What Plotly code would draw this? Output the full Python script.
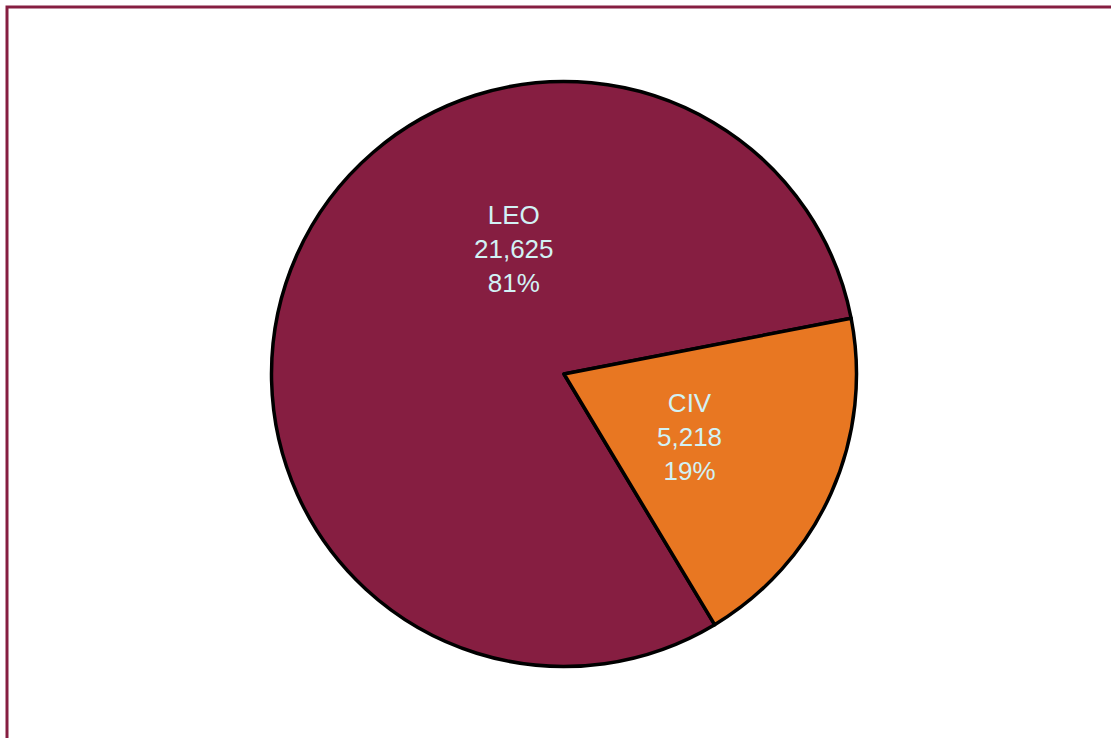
import math
import plotly.graph_objects as go

# Category totals
labels = ["LEO", "CIV"]
values = [21625, 5218]
colors = ["#861e41", "#e87722"]

W, H = 1111, 738

# Pie placement (pixels): centre and radius
CX, CY, R = 564, 374, 292.5
# Label anchor for each slice: polar angle (deg, counter-clockwise from 3 o'clock)
# and distance as a fraction of the radius
label_pos = {"LEO": (111.8, 0.46), "CIV": (-26.6, 0.48)}

domain_x = [(CX - R) / W, (CX + R) / W]
domain_y = [(H - CY - R) / H, (H - CY + R) / H]

fig = go.Figure(
    go.Pie(
        labels=labels,
        values=values,
        sort=False,
        direction="clockwise",
        rotation=149,
        marker=dict(colors=colors, line=dict(color="#000000", width=3.5)),
        textinfo="none",
        showlegend=False,
        hoverinfo="label+value+percent",
        domain=dict(x=domain_x, y=domain_y),
    )
)

total = sum(values)
for lab, val in zip(labels, values):
    ang, frac = label_pos[lab]
    px = CX + frac * R * math.cos(math.radians(ang))
    py = CY - frac * R * math.sin(math.radians(ang))
    fig.add_annotation(
        x=px / W, y=1 - py / H,
        xref="paper", yref="paper",
        xanchor="center", yanchor="middle",
        text=f"{lab}<br>{val:,}<br>{round(100 * val / total)}%",
        showarrow=False,
        align="center",
        font=dict(family="Liberation Sans, Arial, sans-serif", size=26, color="#d2f2f5"),
    )

# Frame line along the top and left of the page
fig.add_shape(
    type="rect",
    xref="paper", yref="paper",
    x0=7 / W, x1=1.2, y0=-0.2, y1=1 - 7 / H,
    line=dict(color="#861e41", width=3),
    fillcolor="rgba(0,0,0,0)",
    layer="above",
)

fig.update_layout(
    width=W,
    height=H,
    margin=dict(l=0, r=0, t=0, b=0),
    paper_bgcolor="#ffffff",
    plot_bgcolor="#ffffff",
)

fig.write_html("out.html")
